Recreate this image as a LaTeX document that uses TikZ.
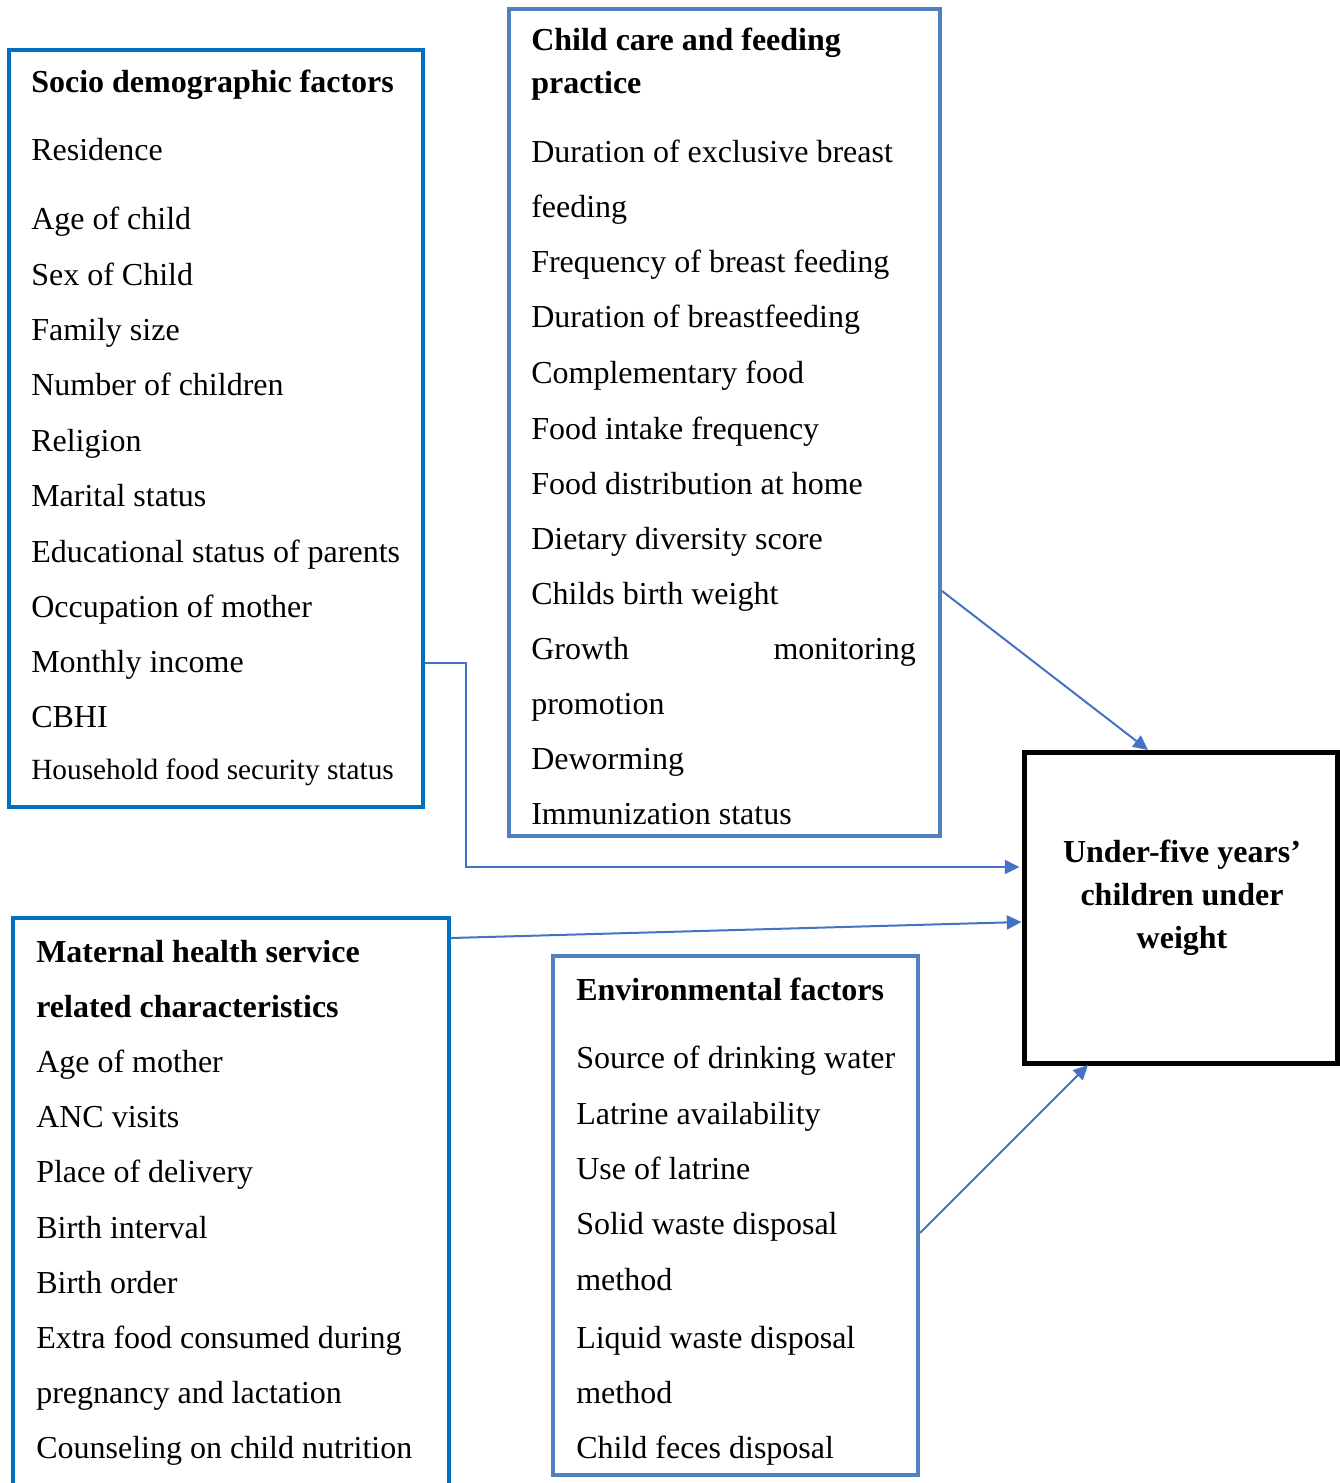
\documentclass[tikz,border=0pt]{standalone}
\usepackage{fontspec}
\setmainfont{Liberation Serif}
\usetikzlibrary{arrows.meta,positioning,fit}
\definecolor{sdblue}{RGB}{0,112,192}
\definecolor{ccblue}{RGB}{79,129,189}
\definecolor{arrblue}{RGB}{68,114,196}
\tikzset{
  boxA/.style={draw=sdblue, line width=3pt, inner sep=0pt},
  boxB/.style={draw=ccblue, line width=3pt, inner sep=0pt},
  outbox/.style={draw=black, line width=3.75pt, inner sep=0pt},
  txt/.style={anchor=base west, inner sep=0pt, font=\fontsize{24}{28}\selectfont},
  smalltxt/.style={anchor=base west, inner sep=0pt, font=\fontsize{22}{26}\selectfont},
  head/.style={anchor=base west, inner sep=0pt, font=\fontsize{24}{28}\selectfont\bfseries},
  outtxt/.style={anchor=base, inner sep=0pt, font=\fontsize{24}{28}\selectfont\bfseries},
  conn/.style={draw=arrblue, line width=1.5pt, -{Triangle[length=11pt,width=10.5pt]}}
}
\begin{document}
\begin{tikzpicture}[x=0.75pt,y=-0.75pt]
\useasboundingbox (0,0) rectangle (1339,1483);
% box corners
\coordinate (sdA) at (9,50);   \coordinate (sdB) at (423,807);
\coordinate (ccA) at (509,9);  \coordinate (ccB) at (940,836);
\coordinate (mhA) at (13,918); \coordinate (mhB) at (449,1530);
\coordinate (evA) at (553,956);\coordinate (evB) at (918,1475);
\coordinate (ouA) at (1024,752);\coordinate (ouB) at (1337,1063);
\node[boxA, fit=(sdA)(sdB)] (socio) {};
\node[boxB, fit=(ccA)(ccB)] (child) {};
\node[boxA, fit=(mhA)(mhB)] (maternal) {};
\node[boxB, fit=(evA)(evB)] (env) {};
\node[outbox, fit=(ouA)(ouB)] (outcome) {};

% Socio demographic factors
\node[head] (s0) at (31,93) {Socio demographic factors};
\node[txt] (s1) at (31,161) {Residence};
\node[txt] (s2) at (31,230) {Age of child};
\node[txt] (s3) at (31,286) {Sex of Child};
\node[txt] (s4) at (31,341) {Family size};
\node[txt] (s5) at (31,396) {Number of children};
\node[txt] (s6) at (31,451) {Religion};
\node[txt] (s7) at (31,506) {Marital status};
\node[txt] (s8) at (31,562) {Educational status of parents};
\node[txt] (s9) at (31,617) {Occupation of mother};
\node[txt] (s10) at (31,672) {Monthly income};
\node[txt] (s11) at (31,727) {CBHI};
\node[smalltxt] (s12) at (31,779) {Household food security status};

% Child care and feeding practice
\node[head] (c0) at (531,51) {Child care and feeding};
\node[head] (c0b) at (531,94) {practice};
\node[txt] (c1) at (531,163) {Duration of exclusive breast};
\node[txt] (c1b) at (531,218) {feeding};
\node[txt] (c2) at (531,273) {Frequency of breast feeding};
\node[txt] (c3) at (531,328) {Duration of breastfeeding};
\node[txt] (c4) at (531,383) {Complementary food};
\node[txt] (c5) at (531,439) {Food intake frequency};
\node[txt] (c6) at (531,494) {Food distribution at home};
\node[txt] (c7) at (531,549) {Dietary diversity score};
\node[txt] (c8) at (531,604) {Childs birth weight};
\node[txt] (c9) at (531,659) {Growth};
\node[txt, anchor=base east] (c9b) at (916,659) {monitoring};
\node[txt] (c9c) at (531,714) {promotion};
\node[txt] (c10) at (531,769) {Deworming};
\node[txt] (c11) at (531,824) {Immunization status};

% Maternal health service
\node[head] (m0) at (36,962) {Maternal health service};
\node[head] (m0b) at (36,1017) {related characteristics};
\node[txt] (m1) at (36,1072) {Age of mother};
\node[txt] (m2) at (36,1127) {ANC visits};
\node[txt] (m3) at (36,1182) {Place of delivery};
\node[txt] (m4) at (36,1238) {Birth interval};
\node[txt] (m5) at (36,1293) {Birth order};
\node[txt] (m6) at (36,1348) {Extra food consumed during};
\node[txt] (m6b) at (36,1403) {pregnancy and lactation};
\node[txt] (m7) at (36,1458) {Counseling on child nutrition};

% Environmental factors
\node[head] (e0) at (576,1000) {Environmental factors};
\node[txt] (e1) at (576,1068) {Source of drinking water};
\node[txt] (e2) at (576,1124) {Latrine availability};
\node[txt] (e3) at (576,1179) {Use of latrine};
\node[txt] (e4) at (576,1234) {Solid waste disposal};
\node[txt] (e4b) at (576,1290) {method};
\node[txt] (e5) at (576,1348) {Liquid waste disposal};
\node[txt] (e5b) at (576,1403) {method};
\node[txt] (e6) at (576,1458) {Child feces disposal};

% Outcome
\node[outtxt] (o1) at (1182,862) {Under-five years’};
\node[outtxt] (o2) at (1182,905) {children under};
\node[outtxt] (o3) at (1182,948) {weight};

% Connectors
\coordinate (j1) at (466,663);
\coordinate (j2) at (466,867);
\draw[conn] (socio.east |- j1) -- (j1) -- (j2) -- ([xshift=-1.5pt]outcome.west |- j2);
\coordinate (mA) at (449,938);
\coordinate (mB) at (1022,922);
\draw[conn] (maternal.east |- mA) -- (outcome.west |- mB) ;
\coordinate (cA) at (940,591);
\coordinate (cB) at (1148,750);
\draw[conn] (child.east |- cA) -- (cB);
\coordinate (eA) at (918,1233);
\coordinate (eB) at (1088,1065);
\draw[conn] (env.east |- eA) -- (eB);
\end{tikzpicture}
\end{document}
